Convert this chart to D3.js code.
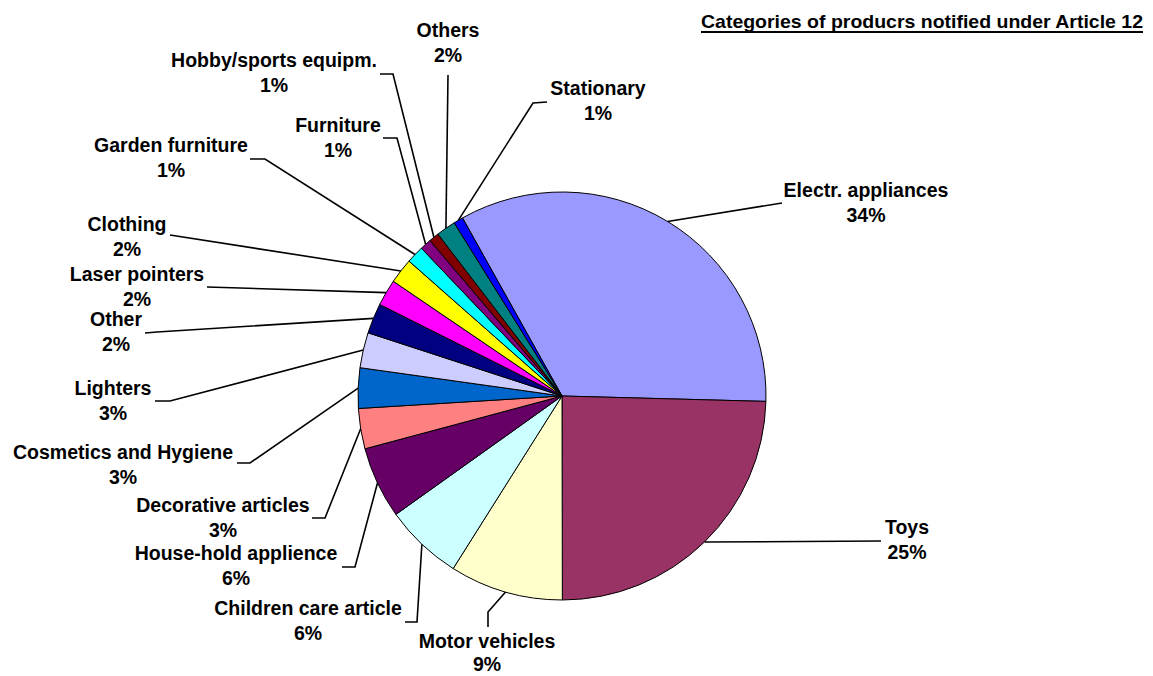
<!DOCTYPE html>
<html>
<head>
<meta charset="utf-8">
<script src="https://cdn.jsdelivr.net/npm/d3@7/dist/d3.min.js"></script>
<style>
  html, body { margin: 0; padding: 0; background: #fff; }
  svg { display: block; }
  text { font-family: "Liberation Sans", Arial, sans-serif; font-weight: bold; fill: #000; }
</style>
</head>
<body>
<svg id="chart" width="1153" height="676"></svg>
<script>
// ---- data ----
const categories = [
  "Electr. appliances", "Toys", "Motor vehicles", "Children care article",
  "House-hold applience", "Decorative articles", "Cosmetics and Hygiene",
  "Lighters", "Other", "Laser pointers", "Clothing", "Garden furniture",
  "Furniture", "Hobby/sports equipm.", "Others", "Stationary"
];
const values = [33.6, 24.6, 9.0, 6.2, 5.7, 3.2, 3.2, 2.8, 2.4, 2.1, 2.0, 1.4, 0.9, 0.8, 1.55, 0.75];
const colors = [
  "#9999FF", "#993366", "#FFFFCC", "#CCFFFF", "#660066", "#FF8080", "#0066CC",
  "#CCCCFF", "#000080", "#FF00FF", "#FFFF00", "#00FFFF", "#800080", "#800000",
  "#008080", "#0000FF"
];
const title = "Categories of producrs notified under Article 12";

// ---- layout (label placement: centre x, first baseline y, line gap, leader points from label side) ----
const labelLayout = [
  { x: 866, y: 197, gap: 25, lead: [[782, 203]] },
  { x: 907, y: 534, gap: 25, lead: [[881, 541]] },
  { x: 487, y: 648, gap: 23, lead: [[488, 627], [488, 612]] },
  { x: 308, y: 615, gap: 25, lead: [[405, 622], [417, 622]] },
  { x: 236, y: 560, gap: 25, lead: [[342, 567], [355, 567]] },
  { x: 223, y: 512, gap: 25, lead: [[312, 518], [325, 518]] },
  { x: 123, y: 459, gap: 25, lead: [[237, 463], [250, 463]] },
  { x: 113, y: 395, gap: 25, lead: [[155, 401], [170, 401]] },
  { x: 116, y: 326, gap: 25, lead: [[145, 333], [157, 332]] },
  { x: 137, y: 281, gap: 25, lead: [[207, 287], [240, 288]] },
  { x: 127, y: 231, gap: 25, lead: [[170, 235]] },
  { x: 171, y: 152, gap: 25, lead: [[250, 159], [265, 159]] },
  { x: 338, y: 132, gap: 25, lead: [[383, 138], [397, 138]] },
  { x: 274, y: 67,  gap: 25, lead: [[380, 74], [393, 74]] },
  { x: 448, y: 37,  gap: 25, lead: [[448, 75]] },
  { x: 598, y: 95,  gap: 25, lead: [[547, 102], [533, 103]] }
];

const cx = 562, cy = 396, R = 204;
const startDeg = -29.2;

const svg = d3.select("#chart");
const total = d3.sum(values);
const data = categories.map((c, i) => ({ name: c, value: values[i], color: colors[i], i }));

const pie = d3.pie().sort(null).value(d => d.value)
  .startAngle(startDeg * Math.PI / 180)
  .endAngle(startDeg * Math.PI / 180 + 2 * Math.PI);
const arcs = pie(data);
const arc = d3.arc().innerRadius(0).outerRadius(R);

const g = svg.append("g").attr("transform", `translate(${cx},${cy})`);
g.selectAll("path.slice").data(arcs).enter().append("path")
  .attr("class", "slice")
  .attr("d", arc)
  .attr("fill", d => d.data.color)
  .attr("stroke", "#000")
  .attr("stroke-width", 1)
  .attr("stroke-linejoin", "round");

// leader lines
const line = d3.line();
svg.selectAll("path.leader").data(arcs).enter().append("path")
  .attr("class", "leader")
  .attr("d", d => {
    const a = (d.startAngle + d.endAngle) / 2;
    const rim = [cx + R * Math.sin(a), cy - R * Math.cos(a)];
    const pts = labelLayout[d.data.i].lead.concat([rim]);
    return line(pts);
  })
  .attr("fill", "none")
  .attr("stroke", "#000")
  .attr("stroke-width", 1.6);

// labels
const lab = svg.selectAll("text.lab").data(arcs).enter().append("text")
  .attr("class", "lab")
  .attr("text-anchor", "middle")
  .style("font-size", "19.5px");
lab.append("tspan")
  .attr("x", d => labelLayout[d.data.i].x)
  .attr("y", d => labelLayout[d.data.i].y)
  .text(d => d.data.name);
lab.append("tspan")
  .attr("x", d => labelLayout[d.data.i].x)
  .attr("y", d => labelLayout[d.data.i].y + labelLayout[d.data.i].gap)
  .text(d => Math.round(d.data.value / total * 100) + "%");

// title with underline
svg.append("text")
  .attr("x", 1143).attr("y", 28)
  .attr("text-anchor", "end")
  .attr("textLength", 442)
  .attr("lengthAdjust", "spacingAndGlyphs")
  .style("font-size", "19px")
  .text(title);
svg.append("rect")
  .attr("x", 701).attr("y", 31)
  .attr("width", 442).attr("height", 2)
  .attr("fill", "#000");
</script>
</body>
</html>
